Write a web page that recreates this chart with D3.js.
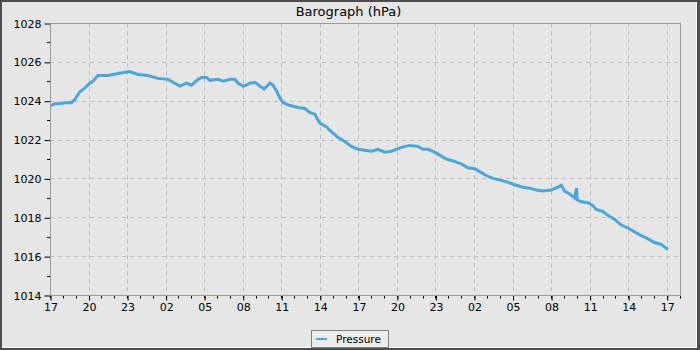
<!DOCTYPE html>
<html><head><meta charset="utf-8">
<script src="https://cdn.jsdelivr.net/npm/d3@7"></script>
<style>html,body{margin:0;padding:0;background:#e6e6e6;}svg{display:block;font-family:"DejaVu Sans",sans-serif;}</style>
</head><body>
<script>
// hours since start (17:00) and pressure (hPa)
const hours = [0.08,0.39,0.78,1.17,1.66,1.92,2.31,2.70,3.09,3.34,3.73,4.51,5.29,6.20,6.84,7.62,8.40,9.18,9.70,10.11,10.63,11.02,11.53,11.80,12.19,12.44,13.09,13.48,14.00,14.39,14.64,15.03,15.30,15.55,15.94,16.33,16.66,17.11,17.36,17.63,17.88,18.14,18.66,19.31,19.83,20.22,20.61,21.00,21.52,21.91,22.42,22.94,23.46,23.97,24.49,25.02,25.53,26.05,26.57,26.96,27.35,27.99,28.64,29.03,29.42,29.94,30.33,30.85,31.36,32.01,32.53,33.05,33.44,33.96,34.47,35.12,35.64,36.29,36.80,37.33,37.85,38.36,39.01,39.53,39.79,40.05,40.44,40.82,40.98,41.03,41.35,41.86,42.25,42.51,43.03,43.41,43.93,44.45,44.97,45.49,46.01,46.52,47.04,47.56,47.96,48.09];
const pressure = [1023.75,1023.85,1023.85,1023.9,1023.9,1024.05,1024.45,1024.65,1024.9,1025.0,1025.3,1025.3,1025.4,1025.5,1025.35,1025.3,1025.15,1025.1,1024.9,1024.75,1024.9,1024.8,1025.1,1025.2,1025.2,1025.05,1025.1,1025.0,1025.1,1025.1,1024.9,1024.75,1024.8,1024.9,1024.95,1024.75,1024.6,1024.9,1024.8,1024.5,1024.15,1023.9,1023.75,1023.65,1023.6,1023.4,1023.3,1022.85,1022.65,1022.4,1022.1,1021.9,1021.65,1021.5,1021.45,1021.4,1021.5,1021.35,1021.4,1021.5,1021.6,1021.7,1021.65,1021.5,1021.5,1021.35,1021.2,1021.0,1020.9,1020.75,1020.55,1020.5,1020.35,1020.15,1020.0,1019.9,1019.8,1019.65,1019.55,1019.5,1019.4,1019.35,1019.4,1019.55,1019.65,1019.35,1019.2,1019.0,1019.5,1018.9,1018.8,1018.75,1018.6,1018.4,1018.3,1018.1,1017.9,1017.6,1017.45,1017.25,1017.05,1016.9,1016.7,1016.6,1016.4,1016.35];
const yTicks = [1014,1016,1018,1020,1022,1024,1026,1028];
const xTickLabels = ["17","20","23","02","05","08","11","14","17","20","23","02","05","08","11","14","17"];
const title = "Barograph (hPa)";
const seriesName = "Pressure";

const W = 700, H = 350;
const m = {left:50, top:23, right:680, bottom:295};
const start = new Date(2024,0,1,17,0,0);
const toDate = h => new Date(start.getTime() + h*3600e3);
const data = hours.map((h,i)=>({t:toDate(h), p:pressure[i]}));

const svg = d3.select("body").append("svg").attr("width",W).attr("height",H);
svg.append("rect").attr("x",0).attr("y",0).attr("width",W).attr("height",H).attr("fill","#4d4d4d");
svg.append("rect").attr("x",2).attr("y",2).attr("width",695).attr("height",346).attr("fill","#ffffff");
svg.append("rect").attr("x",2).attr("y",2).attr("width",694).attr("height",345).attr("fill","#e6e6e6");

const x = d3.scaleTime().domain([start, toDate(49.03)]).range([m.left, m.right]);
const y = d3.scaleLinear().domain([1014,1028]).range([m.bottom, m.top]);

const majorX = d3.range(0,49,3).map(toDate);
const minorX = d3.range(0,50,1).map(toDate).filter(d=>x(d)<=m.right);
const minorY = d3.range(1015,1028,2);

const g = svg.append("g");
g.selectAll(".gx").data(majorX.slice(1)).join("line")
  .attr("x1",d=>Math.round(x(d))+0.5).attr("x2",d=>Math.round(x(d))+0.5)
  .attr("y1",m.top).attr("y2",m.bottom)
  .attr("stroke","#bdbdbd").attr("stroke-dasharray","4,4");
g.selectAll(".gy").data(yTicks.slice(1,-1)).join("line")
  .attr("y1",d=>Math.round(y(d))+0.5).attr("y2",d=>Math.round(y(d))+0.5)
  .attr("x1",m.left).attr("x2",m.right)
  .attr("stroke","#bdbdbd").attr("stroke-dasharray","4,4");

svg.append("rect").attr("x",m.left+0.5).attr("y",m.top+0.5)
  .attr("width",m.right-m.left).attr("height",m.bottom-m.top)
  .attr("fill","none").attr("stroke","#9a9a9a");

const line = d3.line().x(d=>x(d.t)).y(d=>y(d.p));
svg.append("path").datum(data).attr("d",line)
  .attr("fill","none").attr("stroke","#4ca6d8").attr("stroke-width",3).attr("stroke-linejoin","miter");

const yAxis = d3.axisLeft(y).tickValues(yTicks).tickSize(6).tickPadding(3).tickFormat(d3.format("d"));
const ya = svg.append("g").attr("transform",`translate(${m.left+0.5},0.5)`).call(yAxis);
ya.select(".domain").remove();
ya.selectAll("text").attr("font-size",11).attr("font-family","DejaVu Sans").attr("fill","#000");
ya.selectAll("line").attr("stroke","#000");
svg.append("g").selectAll("line").data(minorY).join("line")
  .attr("x1",m.left-3).attr("x2",m.left).attr("y1",d=>Math.round(y(d))+0.5).attr("y2",d=>Math.round(y(d))+0.5)
  .attr("stroke","#000");

const xAxis = d3.axisBottom(x).tickValues(majorX).tickSize(5).tickPadding(3)
  .tickFormat((d,i)=>xTickLabels[i]);
const xa = svg.append("g").attr("transform",`translate(0.5,${m.bottom+0.5})`).call(xAxis);
xa.select(".domain").remove();
xa.selectAll("text").attr("font-size",11).attr("font-family","DejaVu Sans").attr("fill","#000");
xa.selectAll("line").attr("stroke","#000");
svg.append("g").selectAll("line").data(minorX).join("line")
  .attr("x1",d=>Math.round(x(d))+0.5).attr("x2",d=>Math.round(x(d))+0.5)
  .attr("y1",m.bottom).attr("y2",m.bottom+3.5).attr("stroke","#000");
svg.append("line").attr("x1",m.left+0.5).attr("x2",m.left+0.5).attr("y1",m.top).attr("y2",m.bottom+1).attr("stroke","#9a9a9a");
svg.append("line").attr("x1",m.left).attr("x2",m.right+1).attr("y1",m.bottom+0.5).attr("y2",m.bottom+0.5).attr("stroke","#9a9a9a");

svg.append("text").attr("x",348.5).attr("y",15.5).attr("text-anchor","middle")
  .attr("font-size",13).attr("fill","#000").text(title);

const lg = svg.append("g");
lg.append("rect").attr("x",311.5).attr("y",330.5).attr("width",77).attr("height",17)
  .attr("fill","#ececec").attr("stroke","#808080");
lg.append("line").attr("x1",316).attr("x2",327).attr("y1",339).attr("y2",339)
  .attr("stroke","#4ca6d8").attr("stroke-width",2);
lg.append("text").attr("x",336).attr("y",342.5).attr("font-size",10.5).attr("fill","#000").text(seriesName);
</script>
</body></html>
